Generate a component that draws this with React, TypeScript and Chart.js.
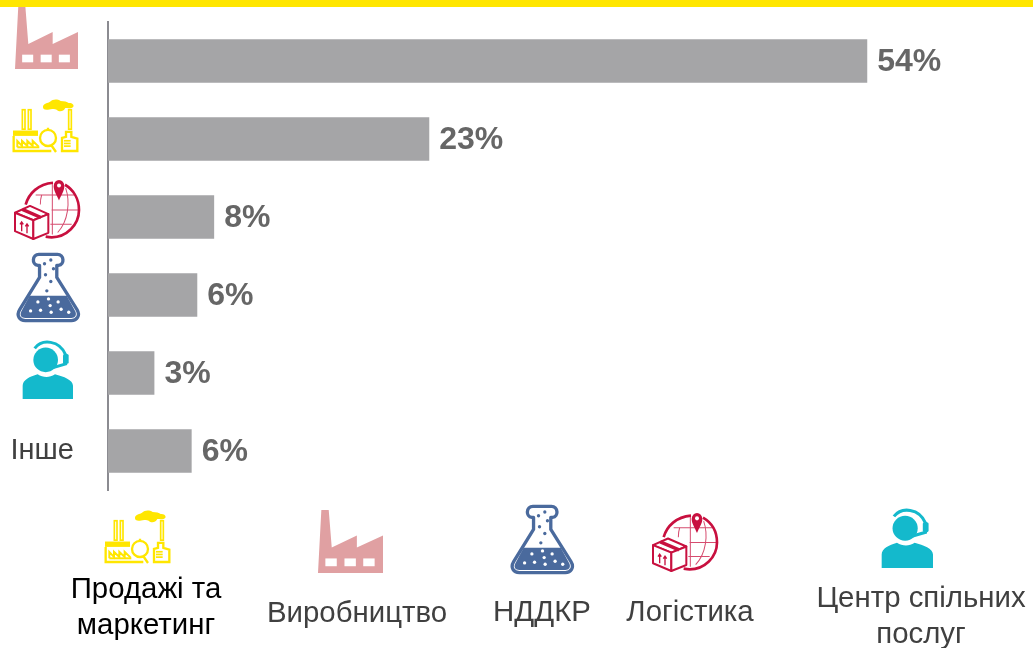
import React, { useEffect, useRef } from "react";
import { Chart, registerables } from "chart.js";

Chart.register(...registerables);

const categories = ["Виробництво", "Продажі та маркетинг", "Логістика", "НДДКР", "Центр спільних послуг", "Інше"];
const values = [54, 22.85, 7.55, 6.35, 3.3, 5.95];
const valueLabels = ["54%", "23%", "8%", "6%", "3%", "6%"];
const axisTextCategories = ["Інше"];

const FONT = '"Liberation Sans", Arial, sans-serif';
const YELLOW = "#ffe600";
const PINK = "#e0a0a2";
const RED = "#c8103f";
const BLUE = "#4a6a9d";
const TEAL = "#14b9cc";

const valueLabelPlugin = {
  id: "valueLabels",
  afterDatasetsDraw(chart: any) {
    const { ctx, scales } = chart;
    ctx.save();
    ctx.font = `bold 32px ${FONT}`;
    ctx.fillStyle = "#666666";
    ctx.textBaseline = "middle";
    ctx.textAlign = "left";
    values.forEach((v, i) => {
      ctx.fillText(valueLabels[i], scales.x.getPixelForValue(v) + 10, scales.y.getPixelForValue(i) + 1.5);
    });
    ctx.restore();
  },
};

type IconProps = { x: number; y: number; w: number; h: number };

function Svg({ x, y, w, h, box, children }: IconProps & { box: string; children: React.ReactNode }) {
  return (
    <svg
      viewBox={box}
      preserveAspectRatio="none"
      style={{ position: "absolute", left: x, top: y, width: w, height: h, overflow: "visible" }}
    >
      {children}
    </svg>
  );
}

function Factory(p: IconProps) {
  return (
    <Svg {...p} box="684 32 194 186">
      <path fill={PINK} d="M694 32H716L725 143L800 107V143L878 107V218H684Z" />
      <g fill="#fff">
        <rect x="706" y="175" width="34" height="23" />
        <rect x="763" y="175" width="34" height="23" />
        <rect x="819" y="175" width="34" height="23" />
      </g>
    </Svg>
  );
}

function Plant(p: IconProps) {
  return (
    <Svg {...p} box="45 30 195 158">
      <path
        fill={YELLOW}
        d="M135 52C136 43 150 42 156 38C165 30 178 30 188 36C198 36 208 38 212 42C222 41 229 47 226 53C222 59 210 57 202 57C196 68 184 70 176 62C165 57 155 64 146 62C138 62 134 58 135 52Z"
      />
      <g fill="none" stroke={YELLOW} strokeWidth="7">
        <rect x="73" y="62" width="8" height="58" strokeWidth="5" />
        <rect x="91" y="62" width="8" height="58" strokeWidth="5" />
        <rect x="212" y="62" width="8" height="58" strokeWidth="5" />
        <path d="M47 140V185H160" />
        <path d="M58 174V155L72 170V155L88 170V155L104 170V155L122 172" strokeWidth="6" />
        <path d="M58 174H124" strokeWidth="6" />
        <circle cx="150" cy="146" r="24" />
        <path d="M160 168L174 188M150 122V116" />
        <path d="M192 185V146L204 143V128H220V143L238 148V185Z" />
      </g>
      <rect x="45" y="124" width="75" height="16" fill={YELLOW} />
      <g fill={YELLOW}>
        <rect x="198" y="152" width="20" height="5" />
        <rect x="198" y="160" width="20" height="5" />
        <rect x="198" y="168" width="20" height="5" />
      </g>
    </Svg>
  );
}

function Globe(p: IconProps) {
  return (
    <Svg {...p} box="490 37 195 176">
      <g fill="none" stroke={RED}>
        <path strokeWidth="8" d="M522 112C532 78 560 52 604 48M640 54C664 68 682 94 682 128C682 172 644 208 600 208C594 208 588 207 582 206" />
        <g strokeWidth="3" opacity="0.75">
          <path d="M570 84C566 96 566 104 566 112M602 48V200M642 64C656 104 650 160 618 194" />
          <path d="M552 84H668M600 128H680M596 170H660" />
        </g>
      </g>
      <path fill={RED} d="M622 100C616 84 606 72 606 58A16 18 0 0 1 638 58C638 72 628 84 622 100Z" />
      <circle cx="622" cy="56" r="6" fill="#fff" />
      <g fill="#fff" stroke={RED} strokeWidth="6" strokeLinejoin="round">
        <path d="M490 136L535 116L590 140L545 158Z" />
        <path d="M490 136L545 158V213L490 190Z" />
        <path d="M545 158L590 140V195L545 213Z" />
      </g>
      <path fill="none" stroke={RED} strokeWidth="10" d="M512 126L568 150" />
      <g fill="none" stroke={RED} strokeWidth="4">
        <path d="M510 190V164M505 170L510 163L515 170" />
        <path d="M526 196V170M521 176L526 169L531 176" />
      </g>
    </Svg>
  );
}

function Flask(p: IconProps) {
  const liquidDots: [number, number][] = [
    [157, 152], [125, 161], [186, 161], [162, 172], [133, 186], [103, 188], [165, 192], [195, 183], [218, 192],
  ];
  const airDots: [number, number][] = [[164, 36], [145, 47], [148, 80], [172, 62], [164, 100], [152, 128]];
  return (
    <Svg {...p} box="62 15 190 206">
      <path
        fill="none"
        stroke={BLUE}
        strokeWidth="10"
        strokeLinejoin="round"
        d="M130 52H125C105 50 108 19 128 19H184C204 19 207 50 187 52H182V88L243 184C254 202 242 217 226 217H87C70 217 59 202 70 184L130 88Z"
      />
      <path fill={BLUE} d="M100 143H212L238 190C243 202 236 209 226 209H87C76 209 69 202 75 190Z" />
      <g fill="#fff">
        {liquidDots.map(([cx, cy], i) => (
          <circle key={i} cx={cx} cy={cy} r="5" />
        ))}
      </g>
      <g fill={BLUE}>
        {airDots.map(([cx, cy], i) => (
          <circle key={i} cx={cx} cy={cy} r="5" />
        ))}
      </g>
    </Svg>
  );
}

function Agent(p: IconProps) {
  return (
    <Svg {...p} box="65 300 153 178">
      <circle cx="136" cy="360" r="37" fill={TEAL} />
      <path fill="none" stroke={TEAL} strokeWidth="9" d="M103 325C125 296 178 300 196 345V372L156 384" />
      <rect x="188" y="342" width="17" height="30" rx="5" fill={TEAL} />
      <path
        fill={TEAL}
        d="M67 478V438C67 420 88 410 112 403C128 413 146 415 164 403C190 410 218 420 218 438V478Z"
      />
    </Svg>
  );
}

const labelStyle: React.CSSProperties = {
  position: "absolute",
  transform: "translateX(-50%)",
  textAlign: "center",
  whiteSpace: "nowrap",
  fontFamily: FONT,
  fontSize: 29.4,
  lineHeight: "36px",
  color: "#404040",
};

export default function App() {
  const ref = useRef<HTMLCanvasElement>(null);

  useEffect(() => {
    const chart = new Chart(ref.current!, {
      type: "bar",
      data: {
        labels: categories,
        datasets: [
          {
            data: values,
            backgroundColor: "#a5a5a7",
            borderWidth: 0,
            categoryPercentage: 1,
            barPercentage: 0.56,
          },
        ],
      },
      options: {
        indexAxis: "y",
        responsive: false,
        animation: false,
        layout: { padding: { top: 22, bottom: 158, left: 0, right: 81.4 } },
        plugins: { legend: { display: false }, tooltip: { enabled: false } },
        scales: {
          x: { display: false, min: 0, max: 60 },
          y: {
            afterFit(scale: any) {
              scale.width = 108;
              scale.paddingTop = 0;
              scale.paddingBottom = 0;
            },
            grid: { display: false, drawTicks: false },
            border: { display: true, color: "#8b8b91", width: 2 },
            ticks: {
              autoSkip: false,
              padding: 34,
              color: "#404040",
              font: { family: FONT, size: 29 },
              callback(_v: any, i: number) {
                return axisTextCategories.includes(categories[i]) ? categories[i] : "";
              },
            },
          },
        },
      } as any,
      plugins: [valueLabelPlugin],
    });
    return () => chart.destroy();
  }, []);

  return (
    <div style={{ position: "fixed", left: 0, top: 0, width: 1033, height: 648, background: "#fff", overflow: "hidden" }}>
      <style>{`body{margin:0}`}</style>
      <canvas ref={ref} width={1033} height={648} style={{ position: "absolute", left: 0, top: 0, display: "block" }} />
      <div style={{ position: "absolute", left: 0, top: 0, width: 1033, height: 7, background: YELLOW }} />

      <Factory x={15} y={7} w={63} h={62} />
      <Plant x={13} y={99} w={65} h={53} />
      <Globe x={15} y={179} w={65} h={60} />
      <Flask x={17} y={253} w={63} h={69} />
      <Agent x={22} y={340} w={51} h={59} />

      <Plant x={105} y={510} w={65} h={53} />
      <Factory x={318} y={510} w={65} h={63} />
      <Flask x={511} y={505} w={63} h={69} />
      <Globe x={653} y={512} w={65} h={59} />
      <Agent x={881} y={508} w={52} h={60} />

      <div style={{ ...labelStyle, left: 146, top: 570, color: "#000" }}>
        Продажі та
        <br />
        маркетинг
      </div>
      <div style={{ ...labelStyle, left: 357, top: 594 }}>Виробництво</div>
      <div style={{ ...labelStyle, left: 542, top: 593 }}>НДДКР</div>
      <div style={{ ...labelStyle, left: 690, top: 593 }}>Логістика</div>
      <div style={{ ...labelStyle, left: 921, top: 579 }}>
        Центр спільних
        <br />
        послуг
      </div>
    </div>
  );
}
